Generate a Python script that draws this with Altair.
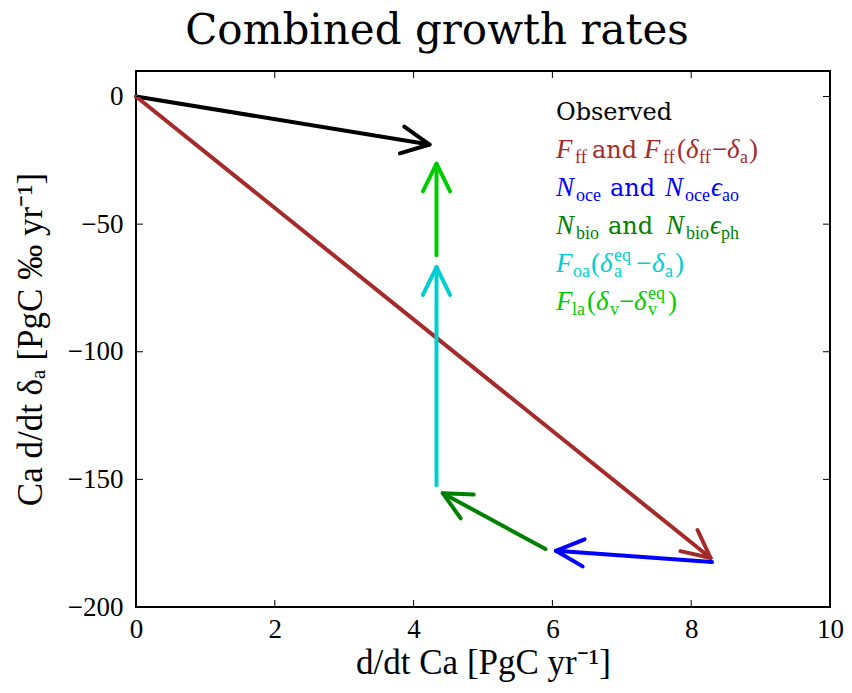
import math
import altair as alt
import pandas as pd

# ---------------- data ----------------
arrow_labels = ["Observed", "F_ff", "N_oce", "N_bio", "F_oa", "F_la"]
x_start = [0.00, 0.00, 8.30, 5.90, 4.33, 4.33]
y_start = [0.0, 0.0, -182.4, -177.3, -152.3, -62.2]
x_end = [4.23, 8.28, 6.05, 4.42, 4.33, 4.33]
y_end = [-18.8, -180.8, -178.0, -155.4, -66.8, -26.3]
arrow_colors = ["#000000", "#a52a2a", "#0000ff", "#008000", "#00ced1", "#00cc00"]

x_ticks = [0, 2, 4, 6, 8, 10]
y_ticks = [-200, -150, -100, -50, 0]
x_domain = [0, 10]
y_domain = [-200, 10]

title_text = "Combined growth rates"
x_title = "d/dt Ca [PgC yr\u207b\u00b9]"
y_title = "Ca d/dt \u03b4\u2090 [PgC \u2030 yr\u207b\u00b9]"

# legend lines: (segment text, kind, x position in page px)
legend_lines = [
    [("Observed", "txt", 556)],
    [("F", "it", 556), ("ff", "sub", 575), ("and", "txt", 592), ("F", "it", 644),
     ("ff", "sub", 663), ("(", "rm", 677), ("\u03b4", "it", 686), ("ff", "sub", 699),
     ("\u2212", "rm", 712), ("\u03b4", "it", 727), ("a", "sub", 740), (")", "rm", 749)],
    [("N", "it", 556), ("oce", "sub", 576), ("and", "txt", 610), ("N", "it", 665),
     ("oce", "sub", 685), ("\u03f5", "it", 711), ("ao", "sub", 722)],
    [("N", "it", 556), ("bio", "sub", 576), ("and", "txt", 608), ("N", "it", 666),
     ("bio", "sub", 686), ("\u03f5", "it", 710), ("ph", "sub", 721)],
    [("F", "it", 556), ("oa", "sub", 573), ("(", "rm", 591), ("\u03b4", "it", 600),
     ("eq", "sup", 614), ("a", "sub", 614), ("\u2212", "rm", 636), ("\u03b4", "it", 652),
     ("a", "sub", 665), (")", "rm", 675)],
    [("F", "it", 556), ("la", "sub", 572), ("(", "rm", 587), ("\u03b4", "it", 596),
     ("v", "sub", 610), ("\u2212", "rm", 619), ("\u03b4", "it", 634), ("eq", "sup", 648),
     ("v", "sub", 648), (")", "rm", 668)],
]
legend_baselines = [120, 158, 196, 234, 272, 310]

# ---------------- layout ----------------
W, H = 694, 536
LEFT, TOP = 136, 71   # plot origin on the page
sx = W / (x_domain[1] - x_domain[0])
sy = H / (y_domain[1] - y_domain[0])

arrows = pd.DataFrame({
    "name": arrow_labels, "x0": x_start, "y0": y_start,
    "x1": x_end, "y1": y_end, "color": arrow_colors,
})
arrows["ang"] = [
    math.degrees(math.atan2((b - a) * sx, (d - c) * sy)) % 360
    for a, b, c, d in zip(x_start, x_end, y_start, y_end)
]

xs = alt.Scale(domain=x_domain, nice=False, zero=False)
ys = alt.Scale(domain=y_domain, nice=False, zero=False)

base = alt.Chart(arrows)

shafts = base.mark_rule(strokeWidth=4, strokeCap="round").encode(
    x=alt.X("x0:Q", scale=xs,
            axis=alt.Axis(values=x_ticks, format="d", title=x_title, grid=False,
                          domain=False, ticks=False, labelFlush=False,
                          labelOverlap=False, labelPadding=9, titleX=W / 2,
                          titleY=66, titleBaseline="alphabetic")),
    y=alt.Y("y0:Q", scale=ys,
            axis=alt.Axis(values=y_ticks, format="d", title=y_title, grid=False,
                          domain=False, ticks=False, labelPadding=13, titleAngle=270,
                          titleX=-106, titleY=H / 2, titleAlign="center",
                          titleBaseline="middle")),
    x2="x1:Q", y2="y1:Q",
    color=alt.Color("color:N", scale=None),
)

heads = base.mark_point(
    shape="M -0.488 1 L 0 0 L 0.488 1", filled=False, strokeWidth=4,
    size=3100, opacity=1, strokeCap="round", strokeJoin="round",
).encode(
    x=alt.X("x1:Q", scale=xs), y=alt.Y("y1:Q", scale=ys),
    angle=alt.Angle("ang:Q", scale=None),
    color=alt.Color("color:N", scale=None),
)

# inward ticks on all four sides
xt = pd.DataFrame({"v": [t for t in x_ticks if x_domain[0] < t < x_domain[1]]})
yt = pd.DataFrame({"v": [t for t in y_ticks if y_domain[0] < t < y_domain[1]]})
TL = 7
tick_bottom = alt.Chart(xt).mark_rule(color="black", strokeWidth=1).encode(
    x=alt.X("v:Q", scale=xs), y=alt.value(H), y2=alt.value(H - TL))
tick_top = alt.Chart(xt).mark_rule(color="black", strokeWidth=1).encode(
    x=alt.X("v:Q", scale=xs), y=alt.value(0), y2=alt.value(TL))
tick_left = alt.Chart(yt).mark_rule(color="black", strokeWidth=1).encode(
    y=alt.Y("v:Q", scale=ys), x=alt.value(0), x2=alt.value(TL))
tick_right = alt.Chart(yt).mark_rule(color="black", strokeWidth=1).encode(
    y=alt.Y("v:Q", scale=ys), x=alt.value(W), x2=alt.value(W - TL))

# legend built from text segments
rows = []
for line, base_y, col in zip(legend_lines, legend_baselines, arrow_colors):
    for txt, kind, xpx in line:
        dy = 5 if kind == "sub" else (-11 if kind == "sup" else 0)
        rows.append({"t": txt, "kind": kind, "px": xpx - LEFT,
                     "py": base_y - TOP + dy, "color": col})
seg = pd.DataFrame(rows)

styles = {
    "txt": dict(font="DejaVu Serif", fontSize=24),
    "it": dict(font="Liberation Serif", fontSize=27, fontStyle="italic"),
    "rm": dict(font="Liberation Serif", fontSize=27),
    "sub": dict(font="Liberation Serif", fontSize=18),
    "sup": dict(font="Liberation Serif", fontSize=18),
}
legend_layers = []
for kind, st in styles.items():
    legend_layers.append(
        alt.Chart(seg).transform_filter(alt.datum.kind == kind)
        .mark_text(align="left", baseline="alphabetic", **st)
        .encode(x=alt.X("px:Q", scale=None), y=alt.Y("py:Q", scale=None),
                text="t:N", color=alt.Color("color:N", scale=None))
    )

title = alt.Chart(pd.DataFrame({"t": [title_text]})).mark_text(
    font="DejaVu Serif", fontSize=42, align="center", baseline="alphabetic",
    color="black",
).encode(text="t:N", x=alt.value(437 - LEFT), y=alt.value(44 - TOP))

chart = alt.layer(
    shafts, heads, tick_bottom, tick_top, tick_left, tick_right,
    *legend_layers, title,
).properties(
    width=W, height=H, autosize="none",
    padding={"left": LEFT - 8, "top": TOP - 8, "right": 836 - (LEFT - 8) - W,
             "bottom": 677 - (TOP - 8) - H},
).configure_view(
    stroke="black", strokeWidth=2,
).configure_axis(
    labelFont="Liberation Serif", labelFontSize=27, labelColor="black",
    titleFont="Liberation Serif", titleFontSize=35, titleColor="black",
    titleFontWeight="normal",
)

chart.save("out.html", embed_options={"renderer": "svg", "actions": False})
